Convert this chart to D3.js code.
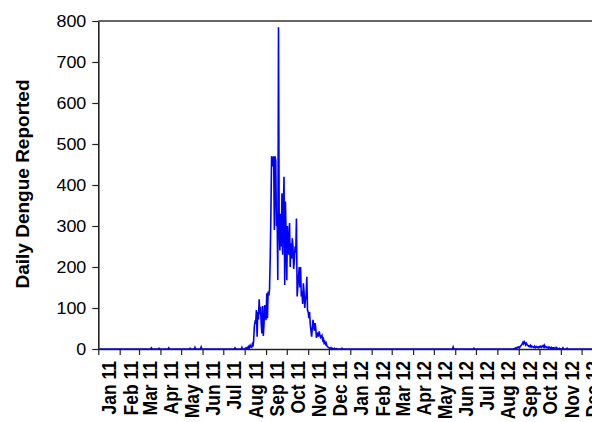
<!DOCTYPE html>
<html>
<head>
<meta charset="utf-8">
<script src="https://cdn.jsdelivr.net/npm/d3@7"></script>
<style>
  body { margin: 0; background: #fff; overflow: hidden; }
  svg { display: block; }
  text { font-family: "Liberation Sans", Arial, sans-serif; fill: #000; }
</style>
</head>
<body>
<svg class="chart" width="592" height="422"></svg>
<script>
// daily reported cases; days not listed below had none reported
const seriesStart = "2011-01-01";
const seriesEnd = "2013-01-01";

// 2011 outbreak, one value per day starting 1 Aug 2011
const outbreakStart = "2011-08-01";
const outbreak2011 = [
  // Aug
  1, 0, 3, 2, 4, 1, 6, 3, 9, 5, 4, 11, 6, 20, 55, 66, 64, 95, 30, 90, 72, 121, 85, 103, 60, 38, 105, 32, 60, 107, 88,
  // Sep
  70, 136, 75, 140, 130, 145, 220, 330, 470, 465, 445, 470, 290, 470, 460, 300, 330, 168, 785, 300, 240, 330, 250, 380, 230, 340, 420, 156, 360, 280,
  // Oct
  168, 300, 258, 230, 307, 200, 258, 220, 270, 250, 195, 217, 250, 235, 318, 128, 150, 175, 200, 150, 200, 128, 140, 110, 160, 140, 100, 120, 130, 176, 95,
  // Nov
  90, 75, 90, 60, 45, 30, 50, 71, 55, 45, 63, 50, 27, 35, 40, 30, 43, 35, 28, 30, 33, 22, 25, 15, 18, 12, 15, 8, 6, 4,
  // Dec
  3, 2, 1, 3, 0, 2, 1, 0, 2, 1, 0, 1, 0
];

// small 2012 rise, one value per day starting 25 Aug 2012
const bumpStart = "2012-08-25";
const bump2012 = [
  1, 0, 2, 3, 2, 4, 3, 5, 3, 6, 8, 10,
  12, 16, 13, 18, 15, 10, 14, 11, 9, 7, 8, 6, 9, 5, 7,
  6, 4, 5, 7, 3, 5, 6, 4, 5, 3, 6, 5, 7, 4, 6, 8, 5, 9, 4, 6,
  5, 3, 4, 2, 5, 3, 2, 4, 1, 3, 2, 3, 1, 2, 4, 1, 2, 0, 1, 2, 1
];

// isolated reports outside the two outbreaks
const blipDates = ["2011-03-19", "2011-03-30", "2011-04-13", "2011-05-14", "2011-05-21", "2011-05-30",
  "2011-07-18", "2011-07-28", "2011-12-20", "2012-05-29", "2012-06-28", "2012-11-04", "2012-11-10"];
const blipValues = [3, 2, 3, 2, 4, 5, 3, 4, 2, 5, 2, 3, 2];

const yTicks = [0, 100, 200, 300, 400, 500, 600, 700, 800];
const yLabel = "Daily Dengue Reported";

let svg = d3.select(".chart");
const parse = d3.timeParse("%Y-%m-%d");
const fmt = d3.timeFormat("%Y-%m-%d");

// build the daily table
let counts = new Map();
d3.timeDay.range(parse(seriesStart), parse(seriesEnd)).forEach(d => counts.set(fmt(d), 0));
outbreak2011.forEach((v, i) => counts.set(fmt(d3.timeDay.offset(parse(outbreakStart), i)), v));
bump2012.forEach((v, i) => counts.set(fmt(d3.timeDay.offset(parse(bumpStart), i)), v));
blipDates.forEach((d, i) => counts.set(d, blipValues[i]));

let data = Array.from(counts, ([k, v]) => ({ date: parse(k), value: v }));

const plotLeft = 98.3, plotTop = 21, plotBottom = 349;
const plotRight = plotLeft + 731 * 0.6904;

let x = d3.scaleTime()
  .domain([parse(seriesStart), parse(seriesEnd)])
  .range([plotLeft, plotRight]);

let y = d3.scaleLinear()
  .domain([0, 800])
  .range([plotBottom, plotTop]);

// frame top
svg.append("line")
  .attr("x1", plotLeft).attr("x2", plotRight)
  .attr("y1", plotTop).attr("y2", plotTop)
  .style("stroke", "#333")
  .style("stroke-width", 1.6);

// data line
let line = d3.line()
  .x(d => x(d.date))
  .y(d => y(d.value));

svg.append("path")
  .datum(data)
  .attr("d", line)
  .style("fill", "none")
  .style("stroke", "#0000ff")
  .style("stroke-width", 1.6)
  .style("stroke-linejoin", "miter");

// y axis
let yAxis = svg.append("g")
  .attr("transform", `translate(${plotLeft},0)`)
  .call(d3.axisLeft(y).tickValues(yTicks).tickSize(6).tickPadding(6).tickSizeOuter(0));

yAxis.select(".domain").style("stroke", "#222").style("stroke-width", 1.6);
yAxis.selectAll(".tick line").style("stroke", "#222").style("stroke-width", 1.2);
yAxis.selectAll(".tick text")
  .attr("x", -12 / 1.12)
  .attr("transform", "scale(1.12,1)")
  .style("font-size", "16px")
  .style("font-family", "'Liberation Sans', Arial, sans-serif");

// x axis, ticks at each month start
let xAxis = svg.append("g")
  .attr("transform", `translate(0,${plotBottom})`)
  .call(d3.axisBottom(x).ticks(d3.timeMonth.every(1)).tickSize(6).tickFormat("").tickSizeOuter(0));

xAxis.select(".domain").style("stroke", "#222").style("stroke-width", 1.6);
xAxis.selectAll(".tick line").style("stroke", "#222").style("stroke-width", 1.2);

// month labels sit at the middle of each month
let months = d3.timeMonth.range(parse(seriesStart), parse(seriesEnd));
svg.selectAll(".month-label")
  .data(months)
  .enter()
  .append("text")
  .attr("class", "month-label")
  .attr("transform", d => {
    let mid = d3.timeDay.offset(d, 15);
    return `translate(${x(mid)},361) rotate(-90) scale(1,1.2)`;
  })
  .attr("dy", "0.36em")
  .attr("text-anchor", "end")
  .style("font-size", "17.5px")
  .style("font-weight", "bold")
  .text(d3.timeFormat("%b %y"));

svg.append("text")
  .attr("transform", "translate(29,184) rotate(-90)")
  .attr("text-anchor", "middle")
  .style("font-size", "19px")
  .style("font-weight", "bold")
  .text(yLabel);
</script>
</body>
</html>
